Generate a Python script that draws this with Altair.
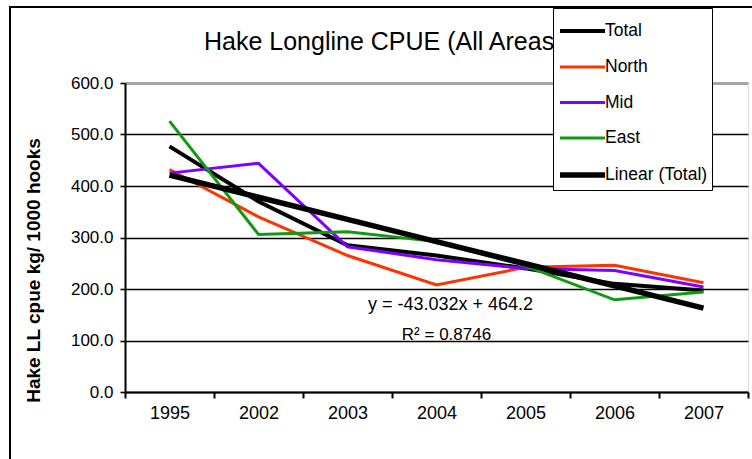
import altair as alt
import pandas as pd

# Hake longline catch per unit effort by area, with a linear trend on the total
years = ["1995", "2002", "2003", "2004", "2005", "2006", "2007"]
total = [477, 370, 285, 265, 240, 210, 197]
north = [432, 340, 265, 208, 242, 246, 212]
mid = [425, 444, 282, 257, 240, 236, 204]
east = [526, 306, 311, 292, 245, 179, 194]

# Excel-style linear trendline on the Total series (x = 1..7)
slope = -43.032
intercept = 464.2
r_squared = 0.8746

series_names = ["Total", "North", "Mid", "East", "Linear (Total)"]
series_colors = ["#000000", "#ff3300", "#7f00ff", "#119911", "#000000"]
series_widths = [4, 3, 3, 3, 5.5]

trend = [round(intercept + slope * (i + 1), 3) for i in range(len(years))]

rows = []
for name, vals in zip(series_names, [total, north, mid, east, trend]):
    for yr, v in zip(years, vals):
        rows.append({"year": yr, "value": v, "series": name})
df = pd.DataFrame(rows)

FONT = "Liberation Sans, Arial, sans-serif"

x_enc = alt.X(
    "year:N",
    sort=years,
    scale=alt.Scale(type="band", paddingInner=0, paddingOuter=0),
    axis=alt.Axis(
        title=None, labelAngle=0, tickBand="extent", tickSize=6, tickColor="black",
        tickWidth=2, domainColor="black", domainWidth=2, labelFont=FONT,
        labelFontSize=18, labelColor="black", labelPadding=6, grid=False,
    ),
)

y_enc = alt.Y(
    "value:Q",
    scale=alt.Scale(domain=[0, 600], nice=False),
    axis=alt.Axis(
        values=[0, 100, 200, 300, 400, 500, 600], format=".1f",
        title="Hake LL cpue kg/ 1000 hooks", titleFont=FONT,
        titleFontWeight="bold", titleFontSize=19, titleColor="black",
        titleAngle=270, titleX=-92, titleY=187, titleAlign="center",
        titleBaseline="middle",
        gridColor={"condition": {"test": "datum.value === 600", "value": "#a6a6a6"}, "value": "#000000"},
        gridWidth={"condition": {"test": "datum.value === 600", "value": 3}, "value": 1.6},
        tickSize=5, tickColor="black", tickWidth=1.6, domainColor="black", domainWidth=2,
        labelFont=FONT, labelFontSize=17, labelColor="black", labelPadding=7,
    ),
)

# Legend entries: long line samples, rows about 36px apart
legend = alt.Legend(
    orient="none", legendX=428, legendY=-75, fillColor="white", strokeColor="black",
    symbolType="M-1,0H1.65", symbolSize=1156, rowPadding=8.5, labelFont=FONT,
    labelFontSize=17.5, labelColor="black", labelOffset=8, padding=4, zindex=1,
)

lines = alt.Chart(df).mark_line().encode(
    x=x_enc,
    y=y_enc,
    color=alt.Color("series:N", title=None,
                    scale=alt.Scale(domain=series_names, range=series_colors),
                    legend=legend),
    strokeWidth=alt.StrokeWidth("series:N", title=None,
                                scale=alt.Scale(type="ordinal", domain=series_names,
                                                range=series_widths),
                                legend=legend),
    detail="series:N",
)

ann = pd.DataFrame({
    "year": ["2004", "2004"],
    "value": [159, 101],
    "label": [f"y = {slope}x + {intercept}", f"R\u00b2 = {r_squared}"],
})
eq1 = alt.Chart(ann.iloc[[0]]).mark_text(
    font=FONT, fontSize=18, color="black", baseline="alphabetic", align="center", dx=14
).encode(x=alt.X("year:N", sort=years), y="value:Q", text="label:N")
eq2 = alt.Chart(ann.iloc[[1]]).mark_text(
    font=FONT, fontSize=17, color="black", baseline="alphabetic", align="center", dx=10
).encode(x=alt.X("year:N", sort=years), y="value:Q", text="label:N")

# Outer chart-area frame
frame = alt.Chart(pd.DataFrame({"k": [0]})).mark_rect(
    fillOpacity=0, stroke="black", strokeWidth=2
).encode(
    x=alt.value(-115), x2=alt.value(720), y=alt.value(-76), y2=alt.value(450)
)

chart = alt.layer(frame, lines, eq1, eq2).properties(
    width=623,
    height=309,
    padding={"left": 125, "top": 83, "right": 4, "bottom": 67},
    autosize=alt.AutoSizeParams(type="none"),
    title=alt.TitleParams(
        "Hake Longline CPUE (All Areas)", anchor="start", dx=195, offset=-69,
        font=FONT, fontSize=25, fontWeight="normal", color="black",
        baseline="alphabetic", zindex=0,
    ),
).configure_view(
    stroke="#a6a6a6", strokeWidth=3
).configure(background="white")

chart.save("out.html", embed_options={"renderer": "svg", "actions": False})
